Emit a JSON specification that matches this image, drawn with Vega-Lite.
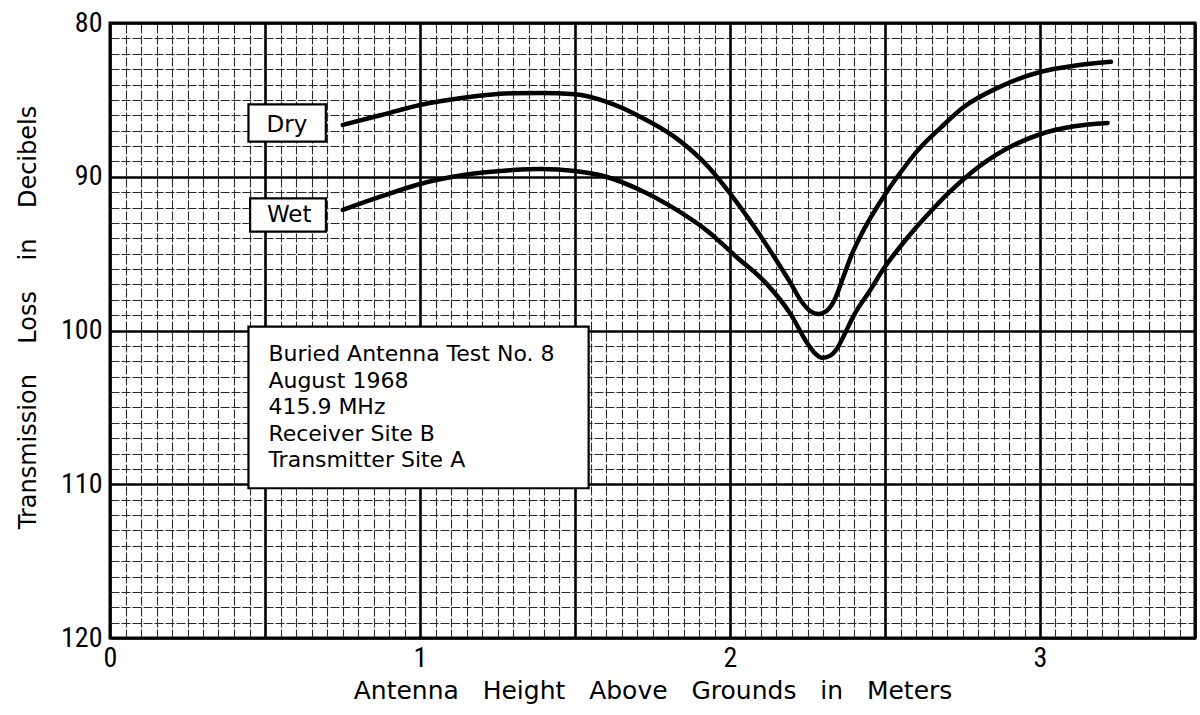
{
  "$schema": "https://vega.github.io/schema/vega-lite/v6.json",
  "autosize": {"type": "none"},
  "padding": {"left": 110, "top": 23, "right": 5, "bottom": 77},
  "width": 1085,
  "height": 615,
  "background": "#ffffff",
  "view": {"stroke": "#000000", "strokeWidth": 3},
  "config": {
    "axis": {
      "labelFont": "Roboto Condensed, Liberation Sans Narrow, Roboto",
      "labelFontSize": 28,
      "labelColor": "#000000",
      "titleFont": "DejaVu Sans",
      "titleFontSize": 25,
      "titleFontWeight": "normal",
      "titleColor": "#000000"
    }
  },
  "datasets": {
    "curves": [
      {"h": 0.751, "loss": 86.63, "soil": "Dry"},
      {"h": 0.872, "loss": 86.0, "soil": "Dry"},
      {"h": 1.0, "loss": 85.33, "soil": "Dry"},
      {"h": 1.14, "loss": 84.86, "soil": "Dry"},
      {"h": 1.3, "loss": 84.57, "soil": "Dry"},
      {"h": 1.39, "loss": 84.55, "soil": "Dry"},
      {"h": 1.5, "loss": 84.64, "soil": "Dry"},
      {"h": 1.6, "loss": 85.12, "soil": "Dry"},
      {"h": 1.71, "loss": 86.09, "soil": "Dry"},
      {"h": 1.82, "loss": 87.39, "soil": "Dry"},
      {"h": 1.93, "loss": 89.35, "soil": "Dry"},
      {"h": 2.0, "loss": 91.08, "soil": "Dry"},
      {"h": 2.09, "loss": 93.6, "soil": "Dry"},
      {"h": 2.15, "loss": 95.45, "soil": "Dry"},
      {"h": 2.196, "loss": 96.93, "soil": "Dry"},
      {"h": 2.23, "loss": 98.1, "soil": "Dry"},
      {"h": 2.26, "loss": 98.75, "soil": "Dry"},
      {"h": 2.285, "loss": 98.92, "soil": "Dry"},
      {"h": 2.31, "loss": 98.75, "soil": "Dry"},
      {"h": 2.335, "loss": 98.1, "soil": "Dry"},
      {"h": 2.365, "loss": 96.55, "soil": "Dry"},
      {"h": 2.395, "loss": 94.95, "soil": "Dry"},
      {"h": 2.425, "loss": 93.7, "soil": "Dry"},
      {"h": 2.454, "loss": 92.65, "soil": "Dry"},
      {"h": 2.497, "loss": 91.25, "soil": "Dry"},
      {"h": 2.54, "loss": 90.0, "soil": "Dry"},
      {"h": 2.605, "loss": 88.3, "soil": "Dry"},
      {"h": 2.68, "loss": 86.8, "soil": "Dry"},
      {"h": 2.755, "loss": 85.45, "soil": "Dry"},
      {"h": 2.863, "loss": 84.22, "soil": "Dry"},
      {"h": 3.003, "loss": 83.17, "soil": "Dry"},
      {"h": 3.11, "loss": 82.78, "soil": "Dry"},
      {"h": 3.229, "loss": 82.52, "soil": "Dry"},
      {"h": 0.751, "loss": 92.16, "soil": "Wet"},
      {"h": 0.872, "loss": 91.3, "soil": "Wet"},
      {"h": 1.0, "loss": 90.47, "soil": "Wet"},
      {"h": 1.14, "loss": 89.89, "soil": "Wet"},
      {"h": 1.3, "loss": 89.56, "soil": "Wet"},
      {"h": 1.39, "loss": 89.5, "soil": "Wet"},
      {"h": 1.5, "loss": 89.63, "soil": "Wet"},
      {"h": 1.6, "loss": 90.0, "soil": "Wet"},
      {"h": 1.71, "loss": 90.86, "soil": "Wet"},
      {"h": 1.82, "loss": 92.06, "soil": "Wet"},
      {"h": 1.93, "loss": 93.57, "soil": "Wet"},
      {"h": 2.02, "loss": 95.2, "soil": "Wet"},
      {"h": 2.12, "loss": 97.0, "soil": "Wet"},
      {"h": 2.196, "loss": 98.95, "soil": "Wet"},
      {"h": 2.25, "loss": 100.85, "soil": "Wet"},
      {"h": 2.275, "loss": 101.5, "soil": "Wet"},
      {"h": 2.298, "loss": 101.78, "soil": "Wet"},
      {"h": 2.322, "loss": 101.65, "soil": "Wet"},
      {"h": 2.346, "loss": 101.15, "soil": "Wet"},
      {"h": 2.373, "loss": 100.1, "soil": "Wet"},
      {"h": 2.4, "loss": 99.0, "soil": "Wet"},
      {"h": 2.45, "loss": 97.45, "soil": "Wet"},
      {"h": 2.497, "loss": 95.94, "soil": "Wet"},
      {"h": 2.545, "loss": 94.65, "soil": "Wet"},
      {"h": 2.594, "loss": 93.45, "soil": "Wet"},
      {"h": 2.65, "loss": 92.2, "soil": "Wet"},
      {"h": 2.7, "loss": 91.15, "soil": "Wet"},
      {"h": 2.777, "loss": 89.75, "soil": "Wet"},
      {"h": 2.895, "loss": 88.15, "soil": "Wet"},
      {"h": 3.003, "loss": 87.22, "soil": "Wet"},
      {"h": 3.11, "loss": 86.72, "soil": "Wet"},
      {"h": 3.218, "loss": 86.5, "soil": "Wet"}
    ],
    "boxes": [
      {"h1": 0.4466, "h2": 0.6962, "l1": 85.29, "l2": 87.72, "box": "Dry"},
      {"h1": 0.452, "h2": 0.6965, "l1": 91.4, "l2": 93.57, "box": "Wet"},
      {"h1": 0.4466, "h2": 1.544, "l1": 99.75, "l2": 110.26, "box": "Info"}
    ],
    "labels": [
      {"h": 0.571, "loss": 87.07, "text": "Dry"},
      {"h": 0.578, "loss": 92.92, "text": "Wet"}
    ],
    "notes": [
      {"h": 0.511, "loss": 102.0, "text": "Buried Antenna Test No. 8"},
      {"h": 0.511, "loss": 103.72, "text": "August 1968"},
      {"h": 0.511, "loss": 105.44, "text": "415.9 MHz"},
      {"h": 0.511, "loss": 107.2, "text": "Receiver Site B"},
      {"h": 0.511, "loss": 108.9, "text": "Transmitter Site A"}
    ]
  },
  "layer": [
    {
      "data": {"name": "curves"},
      "mark": {"type": "line", "color": "#000000", "strokeWidth": 4.5, "interpolate": "monotone", "strokeCap": "round"},
      "encoding": {
        "x": {
          "field": "h", "type": "quantitative",
          "scale": {"domain": [0, 3.5], "nice": false, "zero": false},
          "axis": {
            "values": [0, 0.05, 0.1, 0.15, 0.2, 0.25, 0.3, 0.35, 0.4, 0.45, 0.5, 0.55, 0.6, 0.65, 0.7, 0.75, 0.8, 0.85, 0.9, 0.95, 1, 1.05, 1.1, 1.15, 1.2, 1.25, 1.3, 1.35, 1.4, 1.45, 1.5, 1.55, 1.6, 1.65, 1.7, 1.75, 1.8, 1.85, 1.9, 1.95, 2, 2.05, 2.1, 2.15, 2.2, 2.25, 2.3, 2.35, 2.4, 2.45, 2.5, 2.55, 2.6, 2.65, 2.7, 2.75, 2.8, 2.85, 2.9, 2.95, 3, 3.05, 3.1, 3.15, 3.2, 3.25, 3.3, 3.35, 3.4, 3.45, 3.5],
            "labelExpr": "abs(datum.value - round(datum.value)) < 0.001 && datum.value < 3.4 ? format(datum.value, 'd') : ''",
            "labelOverlap": false,
            "labelFlush": false,
            "labelPadding": 6,
            "ticks": false,
            "domain": false,
            "grid": true,
            "gridColor": "#2a2a2a",
            "gridWidth": 1.1,
            "gridDash": [9, 2],
            "title": "Antenna\u00a0\u00a0 Height\u00a0\u00a0 Above\u00a0\u00a0 Grounds\u00a0\u00a0 in\u00a0\u00a0 Meters",
            "titleY": 60,
            "titleBaseline": "alphabetic"
          }
        },
        "y": {
          "field": "loss", "type": "quantitative",
          "scale": {"domain": [80, 120], "nice": false, "zero": false, "reverse": true},
          "axis": {
            "values": [80, 81, 82, 83, 84, 85, 86, 87, 88, 89, 90, 91, 92, 93, 94, 95, 96, 97, 98, 99, 100, 101, 102, 103, 104, 105, 106, 107, 108, 109, 110, 111, 112, 113, 114, 115, 116, 117, 118, 119, 120],
            "labelExpr": "datum.value % 10 === 0 ? format(datum.value, 'd') : ''",
            "labelOverlap": false,
            "labelFlush": false,
            "labelPadding": 8,
            "ticks": false,
            "domain": false,
            "grid": true,
            "gridColor": "#2a2a2a",
            "gridWidth": 1.1,
            "gridDash": [9, 2],
            "title": "Transmission\u00a0\u00a0\u00a0 Loss\u00a0\u00a0\u00a0 in\u00a0\u00a0\u00a0 Decibels",
            "titleFontSize": 24,
            "titleX": -75,
            "titleY": 294,
            "titleAlign": "center",
            "titleBaseline": "alphabetic"
          }
        },
        "detail": {"field": "soil", "type": "nominal"}
      }
    },
    {
      "data": {"name": "boxes"},
      "mark": {"type": "rect", "fill": "#ffffff", "stroke": "#000000", "strokeWidth": 2.2},
      "encoding": {
        "x": {
          "field": "h1", "type": "quantitative",
          "axis": {
            "orient": "top",
            "values": [0, 0.5, 1, 1.5, 2, 2.5, 3, 3.5],
            "labels": false, "ticks": false, "domain": false, "title": null,
            "grid": true, "gridColor": "#000000", "gridWidth": 2.6
          }
        },
        "x2": {"field": "h2"},
        "y": {
          "field": "l1", "type": "quantitative",
          "axis": {
            "orient": "right",
            "values": [80, 90, 100, 110, 120],
            "labels": false, "ticks": false, "domain": false, "title": null,
            "grid": true, "gridColor": "#000000", "gridWidth": 2.6
          }
        },
        "y2": {"field": "l2"}
      }
    },
    {
      "data": {"name": "labels"},
      "mark": {"type": "text", "font": "DejaVu Sans", "fontSize": 23, "align": "center", "baseline": "alphabetic", "color": "#000000"},
      "encoding": {
        "x": {"field": "h", "type": "quantitative", "axis": null},
        "y": {"field": "loss", "type": "quantitative", "axis": null},
        "text": {"field": "text"}
      }
    },
    {
      "data": {"name": "notes"},
      "mark": {"type": "text", "font": "DejaVu Sans", "fontSize": 22, "align": "left", "baseline": "alphabetic", "color": "#000000"},
      "encoding": {
        "x": {"field": "h", "type": "quantitative", "axis": null},
        "y": {"field": "loss", "type": "quantitative", "axis": null},
        "text": {"field": "text"}
      }
    }
  ],
  "resolve": {"axis": {"x": "independent", "y": "independent"}}
}
